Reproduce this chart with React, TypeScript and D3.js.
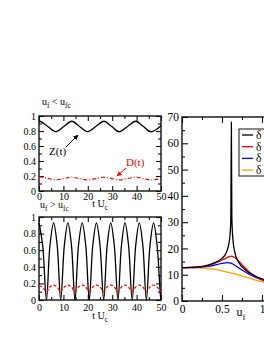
import React, { useEffect, useRef } from 'react';
import * as d3 from 'd3';

// upper-left inset: u_f < u_fc
const tTop = [0, 0.4, 3.6, 6.9, 10.2, 13.4, 16.6, 19.9, 23.3, 26.6, 29.8, 32.9, 36.3, 39.6, 42.8, 45.9, 50];
const zTop = [0.925, 0.93, 0.86, 0.79, 0.86, 0.93, 0.86, 0.79, 0.86, 0.93, 0.86, 0.79, 0.86, 0.93, 0.86, 0.79, 0.87];
const dTop = [0.19, 0.188, 0.168, 0.148, 0.166, 0.184, 0.166, 0.148, 0.166, 0.184, 0.166, 0.148, 0.166, 0.184, 0.166, 0.148, 0.17];

// lower-left inset: u_f > u_fc
const tBot = [0, 1.5, 3.05, 4.5, 6.0, 7.45, 8.9, 10.4, 11.85, 13.3, 14.75, 16.2, 17.7, 19.15, 20.6, 22.05, 23.55, 25.0, 26.5, 27.95, 29.4, 30.85, 32.35, 33.8, 35.25, 36.7, 38.2, 39.65, 41.1, 42.55, 44.0, 45.5, 46.95, 48.4, 49.9, 50];
const zBot = [0.93, 0.66, 0, 0.66, 0.93, 0.66, 0, 0.66, 0.93, 0.66, 0, 0.66, 0.93, 0.66, 0, 0.66, 0.93, 0.66, 0, 0.66, 0.93, 0.66, 0, 0.66, 0.93, 0.66, 0, 0.66, 0.93, 0.66, 0, 0.66, 0.93, 0.66, 0, 0.02];
const dBot = [0.17, 0.155, 0.1, 0.157, 0.18, 0.157, 0.1, 0.157, 0.18, 0.157, 0.1, 0.157, 0.18, 0.157, 0.1, 0.157, 0.18, 0.157, 0.1, 0.157, 0.18, 0.157, 0.1, 0.157, 0.18, 0.157, 0.1, 0.157, 0.18, 0.157, 0.1, 0.157, 0.18, 0.157, 0.1, 0.102];

// right panel: curves vs u_f
const ufBlack = [0, 0.1, 0.2, 0.3, 0.4, 0.5, 0.55, 0.58, 0.6, 0.61, 0.617, 0.623, 0.635, 0.66, 0.7, 0.8, 0.9, 1.0, 1.1, 1.25, 1.5];
const valBlack = [12.7, 12.8, 13.0, 13.5, 14.5, 16.2, 18.2, 21, 25, 31, 68, 32, 24, 18.5, 15.2, 11.6, 9.7, 8.4, 7.3, 6.0, 4.5];
const ufOther = [0, 0.1, 0.2, 0.3, 0.4, 0.5, 0.57, 0.62, 0.67, 0.75, 0.85, 1.0, 1.1, 1.25, 1.5];
const valRed = [12.7, 12.75, 12.9, 13.3, 14.2, 15.6, 16.6, 17.1, 16.3, 13.8, 10.8, 8.0, 6.9, 5.7, 4.3];
const valBlue = [12.7, 12.72, 12.8, 13.1, 13.6, 14.3, 14.6, 14.3, 13.4, 11.8, 10.0, 8.0, 7.0, 5.8, 4.4];
const valOrange = [12.7, 12.7, 12.6, 12.4, 12.1, 11.5, 11.0, 10.6, 10.2, 9.5, 8.6, 7.3, 6.6, 5.6, 4.3];
const legendLabels = ['δ = 0', 'δ = 0.1', 'δ = 0.2', 'δ = 0.4'];
const legendColors = ['#000000', '#ff0000', '#0000ff', '#ffa500'];

const FONT = '"Liberation Serif", "DejaVu Serif", serif';

type Frame = {
  x: d3.ScaleLinear<number, number>;
  y: d3.ScaleLinear<number, number>;
  xMajor: number[]; xMinor: number[];
  yMajor: number[]; yMinor: number[];
  fs: number; major: number; minor: number; xPad: number; yPad: number;
};

function drawFrame(svg: any, f: Frame) {
  const [x0, x1] = f.x.range();
  const [y0, y1] = f.y.range();
  const fmt = (d: any) => String(d);
  const style = (g: any) => {
    g.select('.domain').remove();
    g.selectAll('line').attr('stroke', '#111').attr('stroke-width', 1.1);
    g.selectAll('text').attr('font-family', FONT).attr('font-size', f.fs).attr('fill', '#000');
  };
  svg.append('g').attr('transform', `translate(0,${y0})`)
    .call(d3.axisBottom(f.x).tickValues(f.xMajor).tickSize(-f.major).tickPadding(f.xPad).tickFormat(fmt)).call(style);
  svg.append('g').attr('transform', `translate(0,${y0})`)
    .call(d3.axisBottom(f.x).tickValues(f.xMinor).tickSize(-f.minor).tickFormat(() => '')).call(style);
  svg.append('g').attr('transform', `translate(0,${y1})`)
    .call(d3.axisTop(f.x).tickValues(f.xMajor).tickSize(-f.major).tickFormat(() => '')).call(style);
  svg.append('g').attr('transform', `translate(0,${y1})`)
    .call(d3.axisTop(f.x).tickValues(f.xMinor).tickSize(-f.minor).tickFormat(() => '')).call(style);
  svg.append('g').attr('transform', `translate(${x0},0)`)
    .call(d3.axisLeft(f.y).tickValues(f.yMajor).tickSize(-f.major).tickPadding(f.yPad).tickFormat(fmt)).call(style);
  svg.append('g').attr('transform', `translate(${x0},0)`)
    .call(d3.axisLeft(f.y).tickValues(f.yMinor).tickSize(-f.minor).tickFormat(() => '')).call(style);
  svg.append('g').attr('transform', `translate(${x1},0)`)
    .call(d3.axisRight(f.y).tickValues(f.yMajor).tickSize(-f.major).tickFormat(() => '')).call(style);
  svg.append('g').attr('transform', `translate(${x1},0)`)
    .call(d3.axisRight(f.y).tickValues(f.yMinor).tickSize(-f.minor).tickFormat(() => '')).call(style);
  svg.append('rect').attr('x', x0).attr('y', y1).attr('width', x1 - x0).attr('height', y0 - y1)
    .attr('fill', 'none').attr('stroke', '#111').attr('stroke-width', 1.4);
}

// text with subscripts: parts alternate normal / subscript
function subText(svg: any, x: number, y: number, parts: string[], fs: number, anchor = 'start') {
  const t = svg.append('text').attr('x', x).attr('y', y).attr('font-family', FONT)
    .attr('font-size', fs).attr('text-anchor', anchor);
  let sub = false;
  parts.forEach((p) => {
    t.append('tspan').attr('dy', sub ? fs * 0.32 : (t.selectAll('tspan').size() ? -fs * 0.32 : 0))
      .attr('font-size', sub ? fs * 0.72 : fs).text(p);
    sub = !sub;
  });
  return t;
}

export default function App() {
  const ref = useRef<SVGSVGElement | null>(null);
  useEffect(() => {
    const svg = d3.select(ref.current);
    svg.selectAll('*').remove();

    svg.append('defs').append('marker').attr('id', 'ah').attr('viewBox', '0 0 10 10')
      .attr('refX', 9).attr('refY', 5).attr('markerWidth', 5).attr('markerHeight', 5)
      .attr('orient', 'auto-start-reverse').append('path').attr('d', 'M0,0L10,5L0,10z').attr('fill', 'context-stroke');

    // ---- upper-left panel
    const xT = d3.scaleLinear().domain([0, 50]).range([39, 161]);
    const yT = d3.scaleLinear().domain([0, 1]).range([191, 116]);
    drawFrame(svg, {
      x: xT, y: yT, xMajor: [0, 10, 20, 30, 40, 50], xMinor: [5, 15, 25, 35, 45],
      yMajor: [0, 0.2, 0.4, 0.6, 0.8, 1], yMinor: [0.1, 0.3, 0.5, 0.7, 0.9],
      fs: 10, major: 5, minor: 3, xPad: 2, yPad: 3,
    });
    const lineT = (vals: number[]) => d3.line<number>().x((_, i) => xT(tTop[i])).y((d) => yT(d)).curve(d3.curveCatmullRom)(vals);
    svg.append('path').attr('d', lineT(zTop)).attr('fill', 'none').attr('stroke', '#000').attr('stroke-width', 1.3);
    svg.append('path').attr('d', lineT(dTop)).attr('fill', 'none').attr('stroke', '#ff0000').attr('stroke-width', 1.2)
      .attr('stroke-dasharray', '4,2,1,2');
    svg.append('text').attr('x', 49).attr('y', 155).attr('font-family', FONT).attr('font-size', 11).text('Z(t)');
    svg.append('line').attr('x1', 66).attr('y1', 147).attr('x2', 78).attr('y2', 135)
      .attr('stroke', '#000').attr('stroke-width', 1).attr('marker-end', 'url(#ah)');
    svg.append('text').attr('x', 126).attr('y', 166).attr('font-family', FONT).attr('font-size', 11).attr('fill', '#ff0000').text('D(t)');
    svg.append('line').attr('x1', 126).attr('y1', 168).attr('x2', 117).attr('y2', 176)
      .attr('stroke', '#ff0000').attr('stroke-width', 1).attr('marker-end', 'url(#ah)');
    subText(svg, 42, 108, ['u', 'f', ' < u', 'fc'], 10);
    subText(svg, 100, 210, ['t U', 'c'], 10, 'middle');

    // ---- lower-left panel
    const xB = d3.scaleLinear().domain([0, 50]).range([39, 161]);
    const yB = d3.scaleLinear().domain([0, 1]).range([300, 217]);
    drawFrame(svg, {
      x: xB, y: yB, xMajor: [0, 10, 20, 30, 40, 50], xMinor: [5, 15, 25, 35, 45],
      yMajor: [0, 0.2, 0.4, 0.6, 0.8, 1], yMinor: [0.1, 0.3, 0.5, 0.7, 0.9],
      fs: 10, major: 5, minor: 3, xPad: 4, yPad: 3,
    });
    const lineB = (vals: number[]) => d3.line<number>().x((_, i) => xB(tBot[i])).y((d) => yB(d)).curve(d3.curveCatmullRom)(vals);
    svg.append('path').attr('d', lineB(zBot)).attr('fill', 'none').attr('stroke', '#000').attr('stroke-width', 1.3);
    svg.append('path').attr('d', lineB(dBot)).attr('fill', 'none').attr('stroke', '#ff0000').attr('stroke-width', 1.2)
      .attr('stroke-dasharray', '3,2');
    subText(svg, 40, 211, ['u', 'f', ' > u', 'fc'], 10);
    subText(svg, 100, 322, ['t U', 'c'], 10, 'middle');

    // ---- right panel
    const xR = d3.scaleLinear().domain([0, 1.5]).range([182, 302]);
    const yR = d3.scaleLinear().domain([0, 70]).range([301, 117]);
    drawFrame(svg, {
      x: xR, y: yR, xMajor: [0, 0.5, 1, 1.5], xMinor: [0.25, 0.75, 1.25],
      yMajor: [0, 10, 20, 30, 40, 50, 60, 70], yMinor: [5, 15, 25, 35, 45, 55, 65],
      fs: 11.5, major: 6, minor: 3, xPad: 4, yPad: 3,
    });
    const lineR = (xs: number[]) => d3.line<number>().x((_, i) => xR(xs[i])).y((d) => yR(d)).curve(d3.curveMonotoneX);
    const series: [number[], number[], string][] = [
      [ufOther, valOrange, legendColors[3]],
      [ufOther, valBlue, legendColors[2]],
      [ufOther, valRed, legendColors[1]],
      [ufBlack, valBlack, legendColors[0]],
    ];
    series.forEach(([xs, vs, c]) => {
      svg.append('path').attr('d', lineR(xs)(vs)).attr('fill', 'none').attr('stroke', c).attr('stroke-width', 1.3);
    });
    subText(svg, 241, 320, ['u', 'f'], 12, 'middle');

    // legend
    const lg = svg.append('g');
    lg.append('rect').attr('x', 239).attr('y', 129).attr('width', 70).attr('height', 47)
      .attr('fill', '#fff').attr('stroke', '#111').attr('stroke-width', 1);
    legendLabels.forEach((lab, i) => {
      const yy = 135 + i * 11.7;
      lg.append('line').attr('x1', 242).attr('x2', 253).attr('y1', yy).attr('y2', yy)
        .attr('stroke', legendColors[i]).attr('stroke-width', 1.3);
      lg.append('text').attr('x', 256).attr('y', yy + 4).attr('font-family', FONT).attr('font-size', 11.5).text(lab);
    });
  }, []);
  return (
    <svg ref={ref} width={264} height={341}
      style={{ position: 'absolute', left: 0, top: 0, background: '#fff' }} />
  );
}
